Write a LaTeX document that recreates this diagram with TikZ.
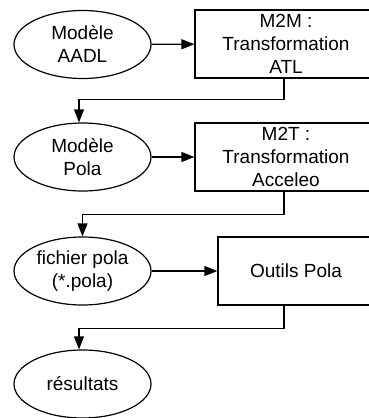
\documentclass[tikz,border=0pt]{standalone}
\usepackage{fontspec}
\setmainfont{Liberation Sans}
\usetikzlibrary{shapes.geometric,arrows.meta}

\begin{document}
\begin{tikzpicture}[x=1pt,y=-1pt,
		modele/.style={ellipse, draw, line width=1.2pt, minimum width=137pt, minimum height=68pt, inner sep=0pt, align=center},
		outil/.style={rectangle, draw, line width=1.2pt, minimum height=68pt, inner sep=0pt, align=center},
		fleche/.style={line width=1.2pt, -{Triangle[length=13pt,width=10pt]}},
		every node/.style={font=\fontsize{19}{23}\selectfont}]
		\useasboundingbox (0,0) rectangle (369,418);
		\node [modele] at (82.5,44.5) (aadl) {Modèle\\AADL};
		\node [outil, minimum width=182pt] at (286,44) (m2m) {M2M :\\Transformation\\ATL};
		\node [modele] at (82.5,157) (pola) {Modèle\\Pola};
		\node [outil, minimum width=182pt] at (286,157) (m2t) {M2T :\\Transformation\\Acceleo};
		\node [modele] at (82.5,271) (fichier) {fichier pola\\(*.pola)};
		\node [outil, minimum width=156pt] at (296,271) (outils) {Outils Pola};
		\node [modele] at (82.5,384) (resultats) {résultats};
		
		\draw [fleche] (aadl) -- (m2m);
		\draw [fleche] ([xshift=-2pt]m2m.south) -- ++(0,21) -| ([xshift=-3.5pt]pola.north);
		\draw [fleche] (pola) -- (m2t);
		\draw [fleche] ([xshift=-2pt]m2t.south) -- ++(0,23) -| (fichier.north);
		\draw [fleche] (fichier) -- (outils);
		\draw [fleche] ([xshift=-12pt]outils.south) -- ++(0,23) -| ([xshift=-3.5pt]resultats.north);
	\end{tikzpicture}
\end{document}
